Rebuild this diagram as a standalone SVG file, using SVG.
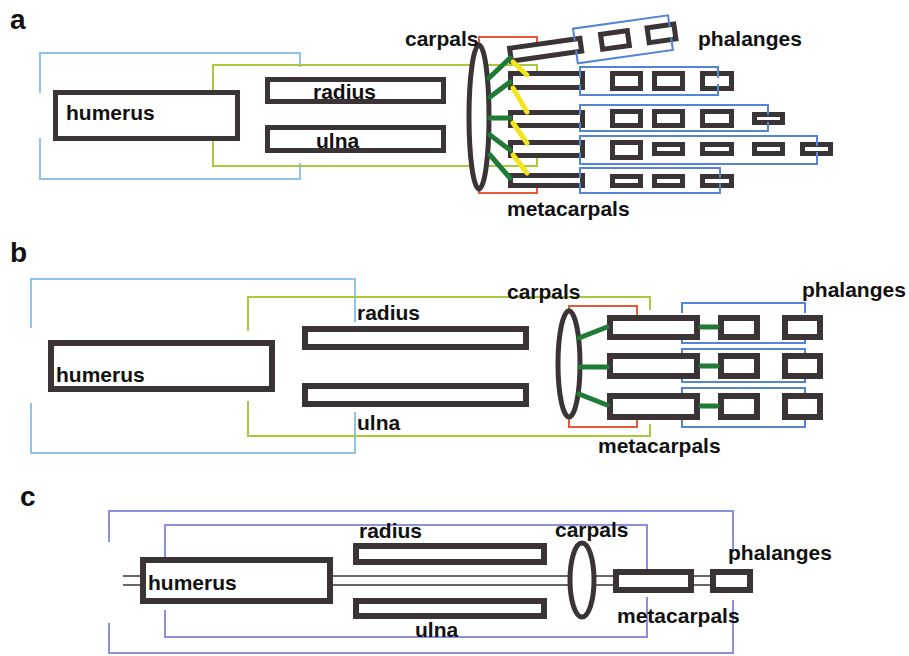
<svg xmlns="http://www.w3.org/2000/svg" width="909" height="656" viewBox="0 0 909 656">
<style>
text{font-family:"Liberation Sans",Arial,sans-serif;font-weight:bold;fill:#111}
.lbl{font-size:21px}
.pl{font-size:28px}
.bone{fill:#fff;stroke:#3a3436;stroke-width:5}
.bone6{fill:#fff;stroke:#3a3436;stroke-width:6}
.br{fill:none;stroke-width:2}
.lb{stroke:#8fc3ea}
.yg{stroke:#a9c83e}
.rd{stroke:#e8583a}
.bl{stroke:#5384d6}
.lv{stroke:#8e8ee2}
.gc{stroke:#1f7a36;stroke-width:5;stroke-linecap:round}
.yc{stroke:#f2e41e;stroke-width:5;stroke-linecap:round}
.dl{stroke:#3a3436;stroke-width:1.6}
</style>
<rect width="909" height="656" fill="#fff"/>

<!-- ============ PANEL A ============ -->
<text class="pl" x="10" y="29">a</text>
<g id="a-brackets">
  <path class="br lb" d="M40,93 V53 H300 V67"/>
  <path class="br lb" d="M40,138 V179 H300 V163"/>
  <path class="br yg" d="M213,92 V65 H537 V75"/>
  <path class="br yg" d="M213,140 V166 H537 V157"/>
  <path class="br rd" d="M479,45 V37 H537 V47"/>
  <path class="br rd" d="M479,189 V193 H537 V183"/>
</g>
<g id="a-humerus"><rect class="bone" x="55.5" y="92.5" width="182" height="46"/><text class="lbl" x="66" y="120">humerus</text></g>
<g id="a-radius"><rect class="bone" x="267.5" y="79.5" width="176" height="22"/><text class="lbl" x="313" y="99">radius</text></g>
<g id="a-ulna"><rect class="bone" x="267.5" y="127.5" width="176" height="23"/><text class="lbl" x="316" y="148">ulna</text></g>
<g id="a-carpals"><ellipse class="bone" cx="479" cy="117" rx="10" ry="72" stroke-width="4"/><text class="lbl" x="405" y="46">carpals</text></g>
<g id="a-metacarpals">
  <rect class="bone" x="510.5" y="73.5" width="72" height="14"/>
  <rect class="bone" x="510.5" y="112.5" width="72" height="13"/>
  <rect class="bone" x="510.5" y="142.5" width="72" height="13"/>
  <rect class="bone" x="510.5" y="175.5" width="72" height="10"/>
  <text class="lbl" x="507" y="216">metacarpals</text>
</g>
<g id="a-thumb" transform="rotate(-8 508 55)">
  <rect class="bone" x="510.5" y="48.5" width="71" height="13"/>
  <rect class="bone" x="602.5" y="47.5" width="27" height="15"/>
  <rect class="bone" x="649.5" y="47.5" width="27" height="15"/>
  <path class="br bl" d="M576,50 V38 H672 V50"/>
  <path class="br bl" d="M576,60 V73 H672 V60"/>
</g>
<g id="a-phalanges">
  <rect class="bone" x="612.5" y="73.5" width="28" height="15"/>
  <rect class="bone" x="654.5" y="73.5" width="28" height="15"/>
  <rect class="bone" x="702.5" y="73.5" width="29" height="15"/>
  <rect class="bone" x="612.5" y="111.5" width="28" height="14"/>
  <rect class="bone" x="654.5" y="111.5" width="28" height="14"/>
  <rect class="bone" x="702.5" y="111.5" width="29" height="14"/>
  <rect class="bone" x="754.5" y="114.5" width="28" height="8"/>
  <rect class="bone" x="612.5" y="142.5" width="28" height="15"/>
  <rect class="bone" x="654.5" y="144.5" width="28" height="9"/>
  <rect class="bone" x="702.5" y="144.5" width="29" height="9"/>
  <rect class="bone" x="754.5" y="144.5" width="28" height="9"/>
  <rect class="bone" x="802.5" y="144.5" width="28" height="9"/>
  <rect class="bone" x="612.5" y="176.5" width="28" height="9"/>
  <rect class="bone" x="654.5" y="176.5" width="28" height="9"/>
  <rect class="bone" x="702.5" y="176.5" width="29" height="9"/>
  <path class="br bl" d="M580,78 V67 H718 V78 M580,84 V95 H718 V84"/>
  <path class="br bl" d="M580,115 V105 H768 V115 M580,122 V131 H768 V122"/>
  <path class="br bl" d="M580,146 V136 H817 V146 M580,152 V164 H817 V152"/>
  <path class="br bl" d="M580,178 V168 H720 V178 M580,183 V193 H720 V183"/>
  <text class="lbl" x="698" y="46">phalanges</text>
</g>
<g id="a-connectors">
  <line class="gc" x1="489" y1="78" x2="510" y2="58"/>
  <line class="gc" x1="490" y1="97" x2="510" y2="82"/>
  <line class="gc" x1="490" y1="118" x2="510" y2="118"/>
  <line class="gc" x1="490" y1="135" x2="510" y2="150"/>
  <line class="gc" x1="490" y1="155" x2="510" y2="178"/>
  <line class="yc" x1="513" y1="62" x2="527" y2="75"/>
  <line class="yc" x1="513" y1="88" x2="527" y2="112"/>
  <line class="yc" x1="513" y1="123" x2="527" y2="143"/>
  <line class="yc" x1="513" y1="155" x2="527" y2="173"/>
</g>

<!-- ============ PANEL B ============ -->
<text class="pl" x="10" y="262">b</text>
<g id="b-brackets">
  <path class="br lb" d="M31,328 V279 H355 V322"/>
  <path class="br lb" d="M31,403 V453 H355 V412"/>
  <path class="br yg" d="M248,331 V297 H650 V310"/>
  <path class="br yg" d="M248,401 V436 H650 V424"/>
  <path class="br rd" d="M569,311 V306 H637 V318"/>
  <path class="br rd" d="M569,417 V427 H637 V415"/>
  <path class="br bl" d="M682,313 V303 H805 V313 M682,335 V343 H805 V335"/>
  <path class="br bl" d="M682,353 V349 H805 V353 M682,376 V382 H805 V376"/>
  <path class="br bl" d="M682,393 V388 H805 V393 M682,418 V427 H805 V418"/>
</g>
<g id="b-humerus"><rect class="bone6" x="51" y="343" width="221" height="46"/><text class="lbl" x="56" y="382">humerus</text></g>
<g id="b-radius"><rect class="bone6" x="305" y="329" width="221" height="18"/><text class="lbl" x="357" y="320">radius</text></g>
<g id="b-ulna"><rect class="bone6" x="305" y="386" width="221" height="18"/><text class="lbl" x="357" y="430">ulna</text></g>
<g id="b-carpals"><ellipse class="bone" cx="569" cy="364" rx="11" ry="53"/><text class="lbl" x="507" y="299">carpals</text></g>
<g id="b-metacarpals">
  <rect class="bone6" x="610" y="318" width="87" height="19"/>
  <rect class="bone6" x="610" y="356" width="87" height="20"/>
  <rect class="bone6" x="610" y="396" width="87" height="21"/>
  <text class="lbl" x="598" y="453">metacarpals</text>
</g>
<g id="b-phalanges">
  <rect class="bone6" x="721" y="318" width="36" height="19"/>
  <rect class="bone6" x="785" y="318" width="35" height="19"/>
  <rect class="bone6" x="721" y="356" width="36" height="20"/>
  <rect class="bone6" x="785" y="356" width="35" height="20"/>
  <rect class="bone6" x="721" y="396" width="36" height="21"/>
  <rect class="bone6" x="785" y="396" width="35" height="21"/>
  <text class="lbl" x="802" y="297">phalanges</text>
</g>
<g id="b-connectors">
  <line class="gc" x1="579" y1="338" x2="607" y2="327"/>
  <line class="gc" x1="580" y1="367" x2="607" y2="367"/>
  <line class="gc" x1="579" y1="394" x2="607" y2="405"/>
  <line class="gc" x1="701" y1="327" x2="717" y2="327"/>
  <line class="gc" x1="701" y1="366" x2="717" y2="366"/>
  <line class="gc" x1="701" y1="406" x2="717" y2="406"/>
</g>

<!-- ============ PANEL C ============ -->
<text class="pl" x="20" y="506">c</text>
<g id="c-brackets">
  <path class="br lv" d="M109,542 V511 H733 V552"/>
  <path class="br lv" d="M109,623 V653 H733 V600"/>
  <path class="br lv" d="M165,557 V525 H647 V569"/>
  <path class="br lv" d="M165,610 V637 H647 V597"/>
</g>
<g id="c-connectors">
  <path class="dl" d="M123,576 H143 M123,585 H143 M330,576 H572 M330,585 H572 M592,576 H616 M592,585 H616 M691,576 H713 M691,585 H713"/>
</g>
<g id="c-humerus"><rect class="bone6" x="143" y="560" width="187" height="41"/><text class="lbl" x="148" y="590">humerus</text></g>
<g id="c-radius"><rect class="bone6" x="356" y="546" width="188" height="16"/><text class="lbl" x="359" y="538">radius</text></g>
<g id="c-ulna"><rect class="bone6" x="356" y="601" width="188" height="15"/><text class="lbl" x="415" y="637">ulna</text></g>
<g id="c-carpals"><ellipse class="bone" cx="582" cy="580" rx="12" ry="37"/><text class="lbl" x="555" y="537">carpals</text></g>
<g id="c-metacarpals"><rect class="bone6" x="616" y="572" width="75" height="18"/><text class="lbl" x="617" y="623">metacarpals</text></g>
<g id="c-phalanges"><rect class="bone6" x="713" y="572" width="37" height="18"/><text class="lbl" x="728" y="560">phalanges</text></g>
</svg>
